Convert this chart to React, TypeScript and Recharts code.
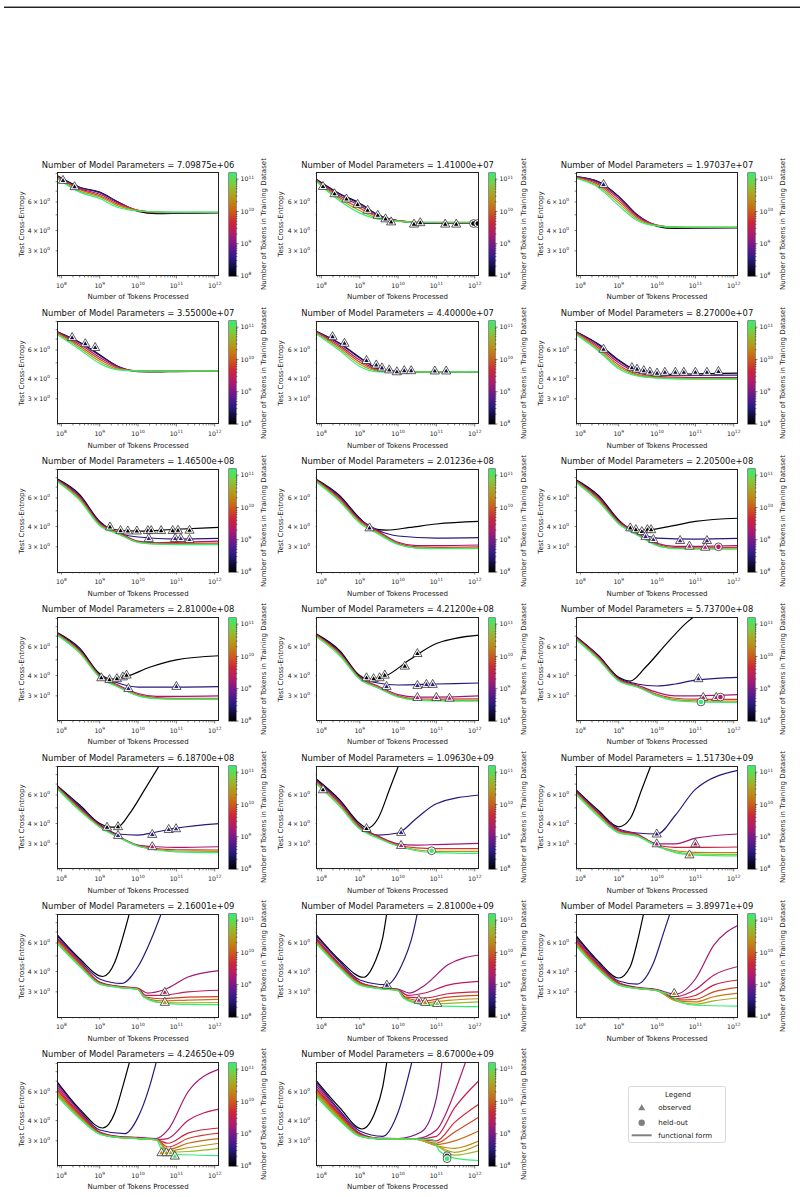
import React from "react";
import { ComposedChart, Line, Scatter, XAxis, YAxis } from "recharts";

// [tokens processed, test cross-entropy]
type Pt = [number, number];
// logD = log10 of the number of tokens in the training dataset (sets the colour)
type Curve = { logD: number; pts: Pt[] };
// [tokens processed, test cross-entropy, log10 dataset tokens]
type Mark = [number, number, number];

const FONT = "'DejaVu Sans', sans-serif";

// ---- fitted curves and measurements, one set per model size ----

const P01_FIT: Curve[] = [
  { logD: 8.0, pts: [[7.5e7, 8.75], [3e8, 7.4], [1e9, 6.9], [3e9, 6.0], [1e10, 5.25], [3e10, 5.08], [1e11, 5.1], [3e11, 5.13], [1.3e12, 5.15]] },
  { logD: 8.6, pts: [[7.5e7, 8.7], [3e8, 7.35], [1e9, 6.85], [3e9, 6.0], [1e10, 5.3], [3e10, 5.14], [1e11, 5.13], [1.3e12, 5.15]] },
  { logD: 9.3, pts: [[7.5e7, 8.65], [3e8, 7.25], [1e9, 6.7], [3e9, 5.9], [1e10, 5.33], [3e10, 5.18], [1e11, 5.15], [1.3e12, 5.16]] },
  { logD: 9.9, pts: [[7.5e7, 8.6], [3e8, 7.15], [1e9, 6.55], [3e9, 5.8], [1e10, 5.33], [3e10, 5.2], [1e11, 5.17], [1.3e12, 5.17]] },
  { logD: 10.5, pts: [[7.5e7, 8.5], [3e8, 7.0], [1e9, 6.45], [3e9, 5.68], [1e10, 5.3], [3e10, 5.2], [1e11, 5.18], [1.3e12, 5.18]] },
  { logD: 11.2, pts: [[7.5e7, 8.4], [3e8, 6.9], [1e9, 6.3], [3e9, 5.55], [1e10, 5.28], [3e10, 5.22], [1e11, 5.2], [1.3e12, 5.2]] },
];
const P01_OBS: Mark[] = [[1.1e8, 8.2, 8.3], [2.2e8, 7.5, 8.3]];

const P02_FIT: Curve[] = [
  { logD: 8.0, pts: [[7.5e7, 8.25], [3e8, 6.75], [1e9, 5.9], [3e9, 5.0], [1e10, 4.58], [3e10, 4.46], [1e11, 4.44], [1.3e12, 4.46]] },
  { logD: 8.6, pts: [[7.5e7, 8.2], [3e8, 6.7], [1e9, 5.85], [3e9, 5.0], [1e10, 4.6], [3e10, 4.48], [1e11, 4.46], [1.3e12, 4.47]] },
  { logD: 9.3, pts: [[7.5e7, 8.15], [3e8, 6.55], [1e9, 5.7], [3e9, 4.92], [1e10, 4.6], [3e10, 4.49], [1e11, 4.47], [1.3e12, 4.47]] },
  { logD: 9.9, pts: [[7.5e7, 8.1], [3e8, 6.4], [1e9, 5.5], [3e9, 4.85], [1e10, 4.6], [3e10, 4.5], [1e11, 4.48], [1.3e12, 4.48]] },
  { logD: 10.5, pts: [[7.5e7, 8.05], [3e8, 6.25], [1e9, 5.3], [3e9, 4.77], [1e10, 4.58], [3e10, 4.5], [1e11, 4.49], [1.3e12, 4.49]] },
  { logD: 11.2, pts: [[7.5e7, 8.0], [3e8, 6.1], [1e9, 5.12], [3e9, 4.7], [1e10, 4.56], [3e10, 4.5], [1e11, 4.5], [1.3e12, 4.5]] },
];
const P02_OBS: Mark[] = [
  [1.1e8, 7.52, 8.0], [2.2e8, 6.78, 8.0], [4.5e8, 6.3, 8.0], [8.8e8, 5.84, 8.0], [1.6e9, 5.37, 8.0], [2.95e9, 5.0, 8.0],
  [4.7e9, 4.75, 8.0], [6.6e9, 4.55, 8.0], [2.6e10, 4.41, 8.0], [3.8e10, 4.5, 8.0], [1.7e11, 4.41, 8.0], [3.3e11, 4.41, 8.0],
];
const P02_HELD: Mark[] = [[9.3e11, 4.42, 8.0], [1.2e12, 4.42, 8.0]];

const P03_FIT: Curve[] = [
  { logD: 8.0, pts: [[7.5e7, 8.6], [3e8, 8.0], [1e9, 6.5], [3e9, 5.0], [1e10, 4.25], [3e10, 4.12], [1e11, 4.14], [1.3e12, 4.17]] },
  { logD: 8.6, pts: [[7.5e7, 8.6], [3e8, 7.95], [1e9, 6.45], [3e9, 5.0], [1e10, 4.3], [3e10, 4.17], [1e11, 4.16], [1.3e12, 4.17]] },
  { logD: 9.3, pts: [[7.5e7, 8.55], [3e8, 7.8], [1e9, 6.3], [3e9, 4.92], [1e10, 4.32], [3e10, 4.19], [1e11, 4.17], [1.3e12, 4.17]] },
  { logD: 9.9, pts: [[7.5e7, 8.5], [3e8, 7.65], [1e9, 6.1], [3e9, 4.82], [1e10, 4.31], [3e10, 4.2], [1e11, 4.18], [1.3e12, 4.18]] },
  { logD: 10.5, pts: [[7.5e7, 8.45], [3e8, 7.5], [1e9, 5.9], [3e9, 4.72], [1e10, 4.29], [3e10, 4.2], [1e11, 4.19], [1.3e12, 4.19]] },
  { logD: 11.2, pts: [[7.5e7, 8.4], [3e8, 7.35], [1e9, 5.7], [3e9, 4.62], [1e10, 4.27], [3e10, 4.2], [1e11, 4.2], [1.3e12, 4.2]] },
];
const P03_OBS: Mark[] = [[4e8, 7.75, 8.5]];

const P04_FIT: Curve[] = [
  { logD: 8.0, pts: [[7.5e7, 7.8], [3e8, 6.7], [1e9, 5.6], [3e9, 4.75], [1e10, 4.42], [3e10, 4.4], [1e11, 4.42], [1.3e12, 4.45]] },
  { logD: 8.6, pts: [[7.5e7, 7.8], [3e8, 6.65], [1e9, 5.55], [3e9, 4.75], [1e10, 4.45], [3e10, 4.43], [1e11, 4.44], [1.3e12, 4.45]] },
  { logD: 9.3, pts: [[7.5e7, 7.75], [3e8, 6.5], [1e9, 5.4], [3e9, 4.7], [1e10, 4.46], [3e10, 4.44], [1.3e12, 4.45]] },
  { logD: 9.9, pts: [[7.5e7, 7.7], [3e8, 6.35], [1e9, 5.25], [3e9, 4.63], [1e10, 4.46], [3e10, 4.45], [1.3e12, 4.46]] },
  { logD: 10.5, pts: [[7.5e7, 7.6], [3e8, 6.2], [1e9, 5.1], [3e9, 4.57], [1e10, 4.46], [3e10, 4.45], [1.3e12, 4.46]] },
  { logD: 11.2, pts: [[7.5e7, 7.5], [3e8, 6.05], [1e9, 4.95], [3e9, 4.52], [1e10, 4.45], [3e10, 4.45], [1.3e12, 4.46]] },
];
const P04_OBS: Mark[] = [[1.9e8, 7.2, 8.3], [4.2e8, 6.6, 8.3], [7.6e8, 6.25, 8.3]];

const P05_FIT: Curve[] = [
  { logD: 8.0, pts: [[7.5e7, 7.8], [3e8, 6.6], [1e9, 5.4], [3e9, 4.6], [1e10, 4.4], [3e10, 4.38], [1e11, 4.4], [1.3e12, 4.42]] },
  { logD: 8.6, pts: [[7.5e7, 7.8], [3e8, 6.55], [1e9, 5.35], [3e9, 4.6], [1e10, 4.42], [3e10, 4.41], [1.3e12, 4.42]] },
  { logD: 9.3, pts: [[7.5e7, 7.75], [3e8, 6.4], [1e9, 5.2], [3e9, 4.55], [1e10, 4.43], [3e10, 4.42], [1.3e12, 4.42]] },
  { logD: 9.9, pts: [[7.5e7, 7.7], [3e8, 6.25], [1e9, 5.05], [3e9, 4.5], [1e10, 4.42], [1.3e12, 4.42]] },
  { logD: 10.5, pts: [[7.5e7, 7.6], [3e8, 6.1], [1e9, 4.9], [3e9, 4.45], [1e10, 4.4], [1.3e12, 4.41]] },
  { logD: 11.2, pts: [[7.5e7, 7.5], [3e8, 5.95], [1e9, 4.75], [3e9, 4.4], [1e10, 4.38], [1.3e12, 4.4]] },
];
const P05_OBS: Mark[] = [
  [1.95e8, 7.29, 8.3], [4e8, 6.64, 8.3], [1.5e9, 5.2, 8.3], [2.7e9, 4.88, 8.3], [3.8e9, 4.68, 8.3], [5.9e9, 4.55, 8.3],
  [9.3e9, 4.43, 8.3], [1.45e10, 4.5, 8.3], [2.2e10, 4.5, 8.3], [9.1e10, 4.48, 8.3], [1.8e11, 4.48, 8.3],
];

const P06_FIT: Curve[] = [
  { logD: 8.0, pts: [[7.5e7, 7.8], [3e8, 6.5], [1e9, 5.2], [3e9, 4.45], [1e10, 4.25], [3e10, 4.25], [1e11, 4.28], [1.3e12, 4.32]] },
  { logD: 8.6, pts: [[7.5e7, 7.8], [3e8, 6.45], [1e9, 5.15], [3e9, 4.42], [1e10, 4.22], [3e10, 4.18], [1e11, 4.18], [1.3e12, 4.2]] },
  { logD: 9.3, pts: [[7.5e7, 7.75], [3e8, 6.3], [1e9, 5.0], [3e9, 4.35], [1e10, 4.15], [3e10, 4.08], [1e11, 4.06], [1.3e12, 4.06]] },
  { logD: 9.9, pts: [[7.5e7, 7.7], [3e8, 6.15], [1e9, 4.85], [3e9, 4.25], [1e10, 4.08], [3e10, 4.02], [1e11, 4.0], [1.3e12, 4.0]] },
  { logD: 10.5, pts: [[7.5e7, 7.6], [3e8, 6.0], [1e9, 4.72], [3e9, 4.2], [1e10, 4.05], [3e10, 4.0], [1e11, 3.98], [1.3e12, 3.98]] },
  { logD: 11.2, pts: [[7.5e7, 7.5], [3e8, 5.9], [1e9, 4.6], [3e9, 4.15], [1e10, 4.02], [3e10, 3.98], [1.3e12, 3.97]] },
];
const P06_OBS: Mark[] = [
  [4e8, 6.1, 8.3], [2.2e9, 4.7, 8.3], [3e9, 4.6, 8.3], [4.5e9, 4.5, 8.3], [6.5e9, 4.42, 8.3], [1e10, 4.35, 8.3],
  [1.6e10, 4.4, 8.3], [3e10, 4.4, 8.3], [5e10, 4.4, 8.3], [1e11, 4.4, 8.3], [2e11, 4.4, 8.3], [4e11, 4.45, 8.3],
];

const P07_FIT: Curve[] = [
  { logD: 8.0, pts: [[7.5e7, 7.9], [3e8, 6.3], [1e9, 4.3], [2e9, 3.85], [1e10, 3.75], [1e11, 3.85], [1.3e12, 3.95]] },
  { logD: 8.5, pts: [[7.5e7, 7.85], [3e8, 6.2], [1e9, 4.25], [2e9, 3.8], [1e10, 3.45], [1e11, 3.35], [1.3e12, 3.38]] },
  { logD: 9.2, pts: [[7.5e7, 7.8], [3e8, 6.1], [1e9, 4.2], [3e9, 3.7], [1e10, 3.25], [3e10, 3.18], [1e11, 3.2], [1.3e12, 3.25]] },
  { logD: 9.8, pts: [[7.5e7, 7.75], [3e8, 6.0], [1e9, 4.15], [3e9, 3.67], [1e10, 3.22], [3e10, 3.15], [1e11, 3.15], [1.3e12, 3.16]] },
  { logD: 10.4, pts: [[7.5e7, 7.7], [3e8, 5.9], [1e9, 4.1], [3e9, 3.63], [1e10, 3.2], [3e10, 3.13], [1e11, 3.12], [1.3e12, 3.12]] },
  { logD: 11.2, pts: [[7.5e7, 7.6], [3e8, 5.8], [1e9, 4.05], [3e9, 3.6], [1e10, 3.2], [3e10, 3.12], [1e11, 3.1], [1.3e12, 3.1]] },
];
const P07_OBS: Mark[] = [
  [1.85e9, 4.0, 8.0], [3.5e9, 3.8, 8.0], [5.4e9, 3.78, 8.0], [9.3e9, 3.78, 8.0], [1.8e10, 3.8, 8.0], [2.2e10, 3.8, 8.0],
  [4e10, 3.8, 8.0], [8e10, 3.8, 8.0], [1.1e11, 3.82, 8.0], [2.2e11, 3.82, 8.0],
  [1.9e10, 3.4, 8.7], [9.3e10, 3.4, 8.7], [1.3e11, 3.4, 8.7], [2.2e11, 3.35, 8.7],
];

const P08_FIT: Curve[] = [
  { logD: 8.0, pts: [[7.5e7, 7.8], [3e8, 6.2], [1e9, 4.5], [2e9, 3.9], [5e9, 3.8], [2e10, 3.95], [1e11, 4.15], [1.3e12, 4.3]] },
  { logD: 8.5, pts: [[7.5e7, 7.75], [3e8, 6.1], [1e9, 4.45], [3e9, 3.8], [1e10, 3.5], [1e11, 3.4], [1.3e12, 3.42]] },
  { logD: 9.2, pts: [[7.5e7, 7.7], [3e8, 6.0], [1e9, 4.4], [3e9, 3.75], [1e10, 3.2], [3e10, 3.05], [1e11, 3.05], [1.3e12, 3.08]] },
  { logD: 9.8, pts: [[7.5e7, 7.65], [3e8, 5.9], [1e9, 4.33], [3e9, 3.7], [1e10, 3.15], [3e10, 3.0], [1e11, 2.98], [1.3e12, 3.0]] },
  { logD: 10.4, pts: [[7.5e7, 7.6], [3e8, 5.8], [1e9, 4.27], [3e9, 3.65], [1e10, 3.12], [3e10, 2.96], [1e11, 2.94], [1.3e12, 2.95]] },
  { logD: 11.2, pts: [[7.5e7, 7.5], [3e8, 5.7], [1e9, 4.2], [3e9, 3.6], [1e10, 3.1], [3e10, 2.95], [1e11, 2.92], [1.3e12, 2.92]] },
];
const P08_OBS: Mark[] = [[1.8e9, 3.95, 8.3]];

const P09_FIT: Curve[] = [
  { logD: 8.0, pts: [[7.5e7, 7.8], [3e8, 6.2], [1e9, 4.4], [2e9, 3.85], [5e9, 3.8], [2e10, 4.0], [1e11, 4.3], [1.3e12, 4.5]] },
  { logD: 8.5, pts: [[7.5e7, 7.75], [3e8, 6.1], [1e9, 4.35], [3e9, 3.7], [1e10, 3.4], [1e11, 3.35], [1.3e12, 3.38]] },
  { logD: 9.2, pts: [[7.5e7, 7.7], [3e8, 6.0], [1e9, 4.3], [3e9, 3.65], [1e10, 3.15], [3e10, 3.02], [1e11, 3.02], [1.3e12, 3.05]] },
  { logD: 9.8, pts: [[7.5e7, 7.65], [3e8, 5.9], [1e9, 4.25], [3e9, 3.6], [1e10, 3.1], [3e10, 2.97], [1e11, 2.96], [1.3e12, 2.98]] },
  { logD: 10.4, pts: [[7.5e7, 7.6], [3e8, 5.8], [1e9, 4.2], [3e9, 3.57], [1e10, 3.07], [3e10, 2.94], [1e11, 2.92], [1.3e12, 2.92]] },
  { logD: 11.2, pts: [[7.5e7, 7.5], [3e8, 5.7], [1e9, 4.15], [3e9, 3.55], [1e10, 3.05], [3e10, 2.92], [1e11, 2.9], [1.3e12, 2.9]] },
];
const P09_OBS: Mark[] = [
  [2e9, 3.95, 8.0], [2.8e9, 3.85, 8.0], [4e9, 3.75, 8.3], [5.6e9, 3.85, 8.0], [7e9, 3.85, 8.0],
  [5e9, 3.5, 8.6], [8e9, 3.35, 8.6], [4e10, 3.3, 8.8], [7e10, 3.05, 9.3], [2e11, 3.3, 8.8], [1.8e11, 3.0, 9.3],
];
const P09_HELD: Mark[] = [[4e11, 3.0, 9.4]];

const P10_FIT: Curve[] = [
  { logD: 8.0, pts: [[7.5e7, 7.4], [3e8, 5.9], [1e9, 4.1], [2e9, 3.8], [5e9, 3.95], [2e10, 4.5], [1e11, 5.0], [1.3e12, 5.3]] },
  { logD: 8.5, pts: [[7.5e7, 7.35], [3e8, 5.8], [1e9, 4.05], [3e9, 3.6], [1e10, 3.4], [1e11, 3.4], [1.3e12, 3.42]] },
  { logD: 9.2, pts: [[7.5e7, 7.3], [3e8, 5.7], [1e9, 4.0], [3e9, 3.5], [1e10, 3.1], [3e10, 2.98], [1e11, 2.98], [1.3e12, 3.0]] },
  { logD: 9.8, pts: [[7.5e7, 7.25], [3e8, 5.65], [1e9, 3.97], [3e9, 3.45], [1e10, 3.05], [3e10, 2.93], [1e11, 2.9], [1.3e12, 2.9]] },
  { logD: 10.4, pts: [[7.5e7, 7.2], [3e8, 5.6], [1e9, 3.93], [3e9, 3.42], [1e10, 3.02], [3e10, 2.9], [1e11, 2.87], [1.3e12, 2.87]] },
  { logD: 11.2, pts: [[7.5e7, 7.1], [3e8, 5.5], [1e9, 3.9], [3e9, 3.4], [1e10, 3.0], [3e10, 2.88], [1e11, 2.85], [1.3e12, 2.85]] },
];
const P10_OBS: Mark[] = [
  [1.1e9, 3.9, 8.0], [1.8e9, 3.8, 8.0], [2.8e9, 3.85, 8.0], [4e9, 3.95, 8.0], [5e9, 4.05, 8.0],
  [5.6e9, 3.35, 8.6], [1e11, 3.45, 8.6],
];

const P11_FIT: Curve[] = [
  { logD: 8.0, pts: [[7.5e7, 7.2], [3e8, 5.7], [1e9, 4.0], [2e9, 3.75], [5e9, 4.0], [2e10, 5.0], [1e11, 6.3], [1.3e12, 7.1]] },
  { logD: 8.5, pts: [[7.5e7, 7.15], [3e8, 5.6], [1e9, 3.95], [3e9, 3.6], [1e10, 3.5], [1e11, 3.55], [1.3e12, 3.6]] },
  { logD: 9.2, pts: [[7.5e7, 7.1], [3e8, 5.5], [1e9, 3.9], [3e9, 3.45], [1e10, 3.05], [3e10, 2.95], [1e11, 2.95], [1.3e12, 3.0]] },
  { logD: 9.8, pts: [[7.5e7, 7.05], [3e8, 5.45], [1e9, 3.87], [3e9, 3.4], [1e10, 3.0], [3e10, 2.88], [1e11, 2.86], [1.3e12, 2.87]] },
  { logD: 10.4, pts: [[7.5e7, 7.0], [3e8, 5.4], [1e9, 3.83], [3e9, 3.37], [1e10, 2.97], [3e10, 2.84], [1e11, 2.81], [1.3e12, 2.81]] },
  { logD: 11.2, pts: [[7.5e7, 6.9], [3e8, 5.3], [1e9, 3.8], [3e9, 3.35], [1e10, 2.95], [3e10, 2.82], [1e11, 2.79], [1.3e12, 2.78]] },
];
const P11_OBS: Mark[] = [
  [1.5e9, 3.9, 8.0], [2.3e9, 3.85, 8.0], [3.3e9, 3.9, 8.0], [4.5e9, 4.05, 8.0], [1.5e10, 4.6, 8.0], [3.2e10, 5.5, 8.0],
  [5e9, 3.45, 8.6], [3.2e10, 3.5, 8.6], [5.5e10, 3.55, 8.6], [8e10, 3.55, 8.6],
  [3.2e10, 2.95, 9.3], [1e11, 2.95, 9.4], [2.2e11, 2.92, 9.4],
];

const P12_FIT: Curve[] = [
  { logD: 8.0, pts: [[7.5e7, 7.0], [3e8, 5.3], [1e9, 3.9], [2e9, 3.7], [5e9, 4.5], [2e10, 6.5], [6e10, 8.5], [1.3e12, 12]] },
  { logD: 8.5, pts: [[7.5e7, 6.95], [3e8, 5.25], [1e9, 3.85], [3e9, 3.55], [1e10, 3.45], [3e10, 3.55], [1e11, 3.75], [1.3e12, 3.9]] },
  { logD: 9.2, pts: [[7.5e7, 6.9], [3e8, 5.2], [1e9, 3.8], [3e9, 3.5], [1e10, 3.15], [3e10, 3.0], [1e11, 3.0], [1.3e12, 3.05]] },
  { logD: 9.8, pts: [[7.5e7, 6.85], [3e8, 5.13], [1e9, 3.77], [3e9, 3.45], [1e10, 3.07], [3e10, 2.9], [1e11, 2.86], [1.3e12, 2.85]] },
  { logD: 10.4, pts: [[7.5e7, 6.8], [3e8, 5.07], [1e9, 3.73], [3e9, 3.42], [1e10, 3.03], [3e10, 2.84], [1e11, 2.79], [1.3e12, 2.78]] },
  { logD: 11.2, pts: [[7.5e7, 6.7], [3e8, 5.0], [1e9, 3.7], [3e9, 3.4], [1e10, 3.0], [3e10, 2.8], [1e11, 2.75], [1.3e12, 2.73]] },
];
const P12_OBS: Mark[] = [[1.2e11, 3.85, 8.6], [1.6e11, 2.95, 9.4], [3.5e11, 2.95, 9.4]];
const P12_HELD: Mark[] = [[1.4e11, 2.75, 11.2], [4.5e11, 2.95, 9.3]];

const P13_FIT: Curve[] = [
  { logD: 8.0, pts: [[7.5e7, 6.9], [3e8, 5.2], [1e9, 4.0], [2e9, 3.8], [3e9, 3.82], [6e9, 4.6], [1.5e10, 6.5], [4e10, 9.5]] },
  { logD: 8.5, pts: [[7.5e7, 6.85], [3e8, 5.1], [1e9, 3.95], [3e9, 3.45], [1e10, 3.4], [3e10, 3.55], [1e11, 3.75], [1.3e12, 4.0]] },
  { logD: 9.2, pts: [[7.5e7, 6.8], [3e8, 5.0], [1e9, 3.9], [3e9, 3.35], [1e10, 2.95], [3e10, 2.88], [1e11, 2.85], [1.3e12, 2.88]] },
  { logD: 9.8, pts: [[7.5e7, 6.75], [3e8, 4.93], [1e9, 3.87], [3e9, 3.32], [1e10, 2.92], [3e10, 2.8], [1e11, 2.76], [1.3e12, 2.75]] },
  { logD: 10.4, pts: [[7.5e7, 6.7], [3e8, 4.87], [1e9, 3.83], [3e9, 3.31], [1e10, 2.91], [3e10, 2.77], [1e11, 2.71], [1.3e12, 2.7]] },
  { logD: 11.2, pts: [[7.5e7, 6.6], [3e8, 4.8], [1e9, 3.8], [3e9, 3.3], [1e10, 2.9], [3e10, 2.75], [1e11, 2.68], [1.3e12, 2.65]] },
];
const P13_OBS: Mark[] = [
  [1.55e9, 3.82, 8.0], [3e9, 3.85, 8.0], [3e9, 3.4, 8.6], [2.35e10, 3.45, 8.6], [6.3e10, 3.7, 8.6], [9.8e10, 3.74, 8.6],
  [2.35e10, 2.9, 9.3],
];

const P14_FIT: Curve[] = [
  { logD: 8.0, pts: [[7.5e7, 7.5], [3e8, 5.6], [1e9, 4.0], [1.6e9, 3.75], [3e9, 4.3], [6e9, 6.5], [1.2e10, 10]] },
  { logD: 8.5, pts: [[7.5e7, 7.4], [3e8, 5.5], [1e9, 3.9], [3e9, 3.4], [1e10, 3.5], [3e10, 4.3], [1e11, 5.3], [1.3e12, 6.0]] },
  { logD: 9.2, pts: [[7.5e7, 7.3], [3e8, 5.4], [1e9, 3.85], [3e9, 3.35], [1e10, 3.0], [3e10, 2.95], [1e11, 2.97], [1.3e12, 3.02]] },
  { logD: 9.8, pts: [[7.5e7, 7.2], [3e8, 5.3], [1e9, 3.8], [3e9, 3.3], [1e10, 2.95], [3e10, 2.83], [1e11, 2.8], [1.3e12, 2.8]] },
  { logD: 10.4, pts: [[7.5e7, 7.1], [3e8, 5.2], [1e9, 3.75], [3e9, 3.27], [1e10, 2.92], [3e10, 2.76], [1e11, 2.7], [1.3e12, 2.7]] },
  { logD: 11.2, pts: [[7.5e7, 7.0], [3e8, 5.1], [1e9, 3.7], [3e9, 3.25], [1e10, 2.9], [3e10, 2.72], [1e11, 2.65], [1.3e12, 2.62]] },
];
const P14_OBS: Mark[] = [[1.1e8, 6.5, 8.0], [1.5e9, 3.75, 8.0], [1.2e10, 3.55, 8.6], [1.2e10, 2.95, 9.3]];
const P14_HELD: Mark[] = [[7.5e10, 2.72, 11.1]];

const P15_FIT: Curve[] = [
  { logD: 8.0, pts: [[7.5e7, 6.5], [3e8, 4.8], [1e9, 3.82], [2e9, 4.3], [4e9, 6.5], [8e9, 10]] },
  { logD: 8.5, pts: [[7.5e7, 6.4], [3e8, 4.7], [1e9, 3.7], [3e9, 3.5], [1e10, 3.45], [3e10, 4.5], [1e11, 6.5], [1.3e12, 8.5]] },
  { logD: 9.2, pts: [[7.5e7, 6.35], [3e8, 4.65], [1e9, 3.65], [3e9, 3.45], [1e10, 3.0], [3e10, 3.0], [1e11, 3.25], [1.3e12, 3.45]] },
  { logD: 9.6, pts: [[7.5e7, 6.3], [3e8, 4.6], [1e9, 3.6], [3e9, 3.42], [1e10, 2.95], [3e10, 2.85], [1e11, 2.85], [1.3e12, 2.87]] },
  { logD: 10.2, pts: [[7.5e7, 6.2], [3e8, 4.5], [1e9, 3.55], [3e9, 3.38], [1e10, 2.92], [3e10, 2.72], [1e11, 2.66], [1.3e12, 2.65]] },
  { logD: 10.8, pts: [[7.5e7, 6.15], [3e8, 4.45], [1e9, 3.52], [3e9, 3.36], [1e10, 2.91], [3e10, 2.68], [1e11, 2.6], [1.3e12, 2.58]] },
  { logD: 11.2, pts: [[7.5e7, 6.1], [3e8, 4.4], [1e9, 3.5], [3e9, 3.35], [1e10, 2.9], [3e10, 2.65], [1e11, 2.56], [1.3e12, 2.53]] },
];
const P15_OBS: Mark[] = [[9.8e9, 3.47, 8.6], [9.8e9, 3.02, 9.2], [1e11, 3.02, 9.3], [7e10, 2.58, 10.3]];

const P16_FIT: Curve[] = [
  { logD: 8.0, pts: [[7.5e7, 6.8], [3e8, 4.8], [1.2e9, 3.73], [2.5e9, 4.6], [4e9, 6.5], [6e9, 9.2]] },
  { logD: 8.5, pts: [[7.5e7, 6.7], [3e8, 4.7], [1e9, 3.6], [3.7e9, 3.38], [1e10, 4.3], [2.5e10, 6.8], [4.1e10, 9.2]] },
  { logD: 9.2, pts: [[7.5e7, 6.5], [3e8, 4.6], [1e9, 3.45], [3e9, 3.25], [1e10, 3.15], [1.8e10, 2.95], [5e10, 3.1], [2e11, 3.7], [1.3e12, 4.06]] },
  { logD: 9.5, pts: [[7.5e7, 6.4], [3e8, 4.5], [1e9, 3.42], [3e9, 3.23], [1e10, 3.15], [1.6e10, 2.85], [4e10, 2.85], [2e11, 3.0], [1.3e12, 3.07]] },
  { logD: 9.8, pts: [[7.5e7, 6.3], [3e8, 4.45], [1e9, 3.4], [3e9, 3.22], [1e10, 3.12], [1.5e10, 2.8], [4e10, 2.72], [2e11, 2.78], [1.3e12, 2.8]] },
  { logD: 10.2, pts: [[7.5e7, 6.2], [3e8, 4.4], [1e9, 3.38], [3e9, 3.21], [1e10, 3.11], [1.4e10, 2.8], [4e10, 2.64], [2e11, 2.67], [1.3e12, 2.7]] },
  { logD: 10.6, pts: [[7.5e7, 6.1], [3e8, 4.35], [1e9, 3.36], [3e9, 3.2], [1e10, 3.1], [1.4e10, 2.8], [4e10, 2.58], [2e11, 2.57], [1.3e12, 2.58]] },
  { logD: 11.2, pts: [[7.5e7, 6.0], [3e8, 4.3], [1e9, 3.35], [3e9, 3.2], [1e10, 3.1], [1.4e10, 2.8], [3e10, 2.6], [1e11, 2.52], [1.3e12, 2.5]] },
];
const P16_OBS: Mark[] = [[5e10, 3.0, 9.3], [5e10, 2.6, 10.4]];

const P17_FIT: Curve[] = [
  { logD: 8.0, pts: [[7.5e7, 6.7], [3e8, 4.7], [1.25e9, 3.69], [2.5e9, 4.6], [4e9, 6.5], [5.1e9, 9.2]] },
  { logD: 8.5, pts: [[7.5e7, 6.6], [3e8, 4.6], [1e9, 3.55], [5e9, 3.32], [1.2e10, 4.3], [2.5e10, 7.0], [3.2e10, 9.2]] },
  { logD: 9.2, pts: [[7.5e7, 6.4], [3e8, 4.45], [1e9, 3.45], [3e9, 3.2], [1e10, 3.12], [2e10, 2.95], [5e10, 3.3], [2e11, 4.4], [1.3e12, 5.06]] },
  { logD: 9.4, pts: [[7.5e7, 6.3], [3e8, 4.4], [1e9, 3.42], [3e9, 3.19], [1e10, 3.1], [1.8e10, 2.85], [5e10, 2.95], [2e11, 3.3], [1.3e12, 3.48]] },
  { logD: 9.6, pts: [[7.5e7, 6.2], [3e8, 4.35], [1e9, 3.4], [3e9, 3.18], [1e10, 3.08], [1.6e10, 2.78], [5e10, 2.75], [2e11, 2.92], [1.3e12, 3.0]] },
  { logD: 9.9, pts: [[7.5e7, 6.1], [3e8, 4.3], [1e9, 3.37], [3e9, 3.17], [1e10, 3.07], [1.5e10, 2.76], [5e10, 2.64], [2e11, 2.78], [1.3e12, 2.85]] },
  { logD: 10.3, pts: [[7.5e7, 6.05], [3e8, 4.27], [1e9, 3.35], [3e9, 3.16], [1e10, 3.06], [1.4e10, 2.75], [5e10, 2.57], [2e11, 2.66], [1.3e12, 2.72]] },
  { logD: 10.7, pts: [[7.5e7, 6.0], [3e8, 4.23], [1e9, 3.32], [3e9, 3.15], [1e10, 3.05], [1.4e10, 2.75], [5e10, 2.52], [2e11, 2.55], [1.3e12, 2.6]] },
  { logD: 11.2, pts: [[7.5e7, 5.9], [3e8, 4.2], [1e9, 3.3], [3e9, 3.15], [1e10, 3.05], [1.4e10, 2.75], [3e10, 2.55], [1e11, 2.46], [1.3e12, 2.43]] },
];
const P17_OBS: Mark[] = [[5.1e9, 3.32, 8.6], [3.5e10, 2.68, 9.4], [5.1e10, 2.6, 10.3], [1.05e11, 2.56, 10.9]];

const P18_FIT: Curve[] = [
  { logD: 8.0, pts: [[7.5e7, 6.7], [3e8, 4.6], [1e9, 3.65], [2e9, 4.3], [3e9, 6.0], [4.5e9, 9.2]] },
  { logD: 8.5, pts: [[7.5e7, 6.6], [3e8, 4.5], [1e9, 3.5], [3e9, 3.35], [8e9, 4.5], [1.5e10, 7.0], [2.2e10, 9.2]] },
  { logD: 9.2, pts: [[7.5e7, 6.4], [3e8, 4.4], [1e9, 3.42], [3e9, 3.2], [1e10, 3.1], [3e10, 2.9], [1e11, 3.6], [3e11, 5.8], [1.3e12, 7.7]] },
  { logD: 9.4, pts: [[7.5e7, 6.3], [3e8, 4.35], [1e9, 3.4], [3e9, 3.18], [1e10, 3.08], [3e10, 2.8], [1e11, 3.1], [3e11, 3.8], [1.3e12, 4.3]] },
  { logD: 9.6, pts: [[7.5e7, 6.2], [3e8, 4.3], [1e9, 3.38], [3e9, 3.17], [1e10, 3.07], [3e10, 2.72], [1e11, 2.85], [3e11, 3.3], [1.3e12, 3.55]] },
  { logD: 9.9, pts: [[7.5e7, 6.1], [3e8, 4.25], [1e9, 3.35], [3e9, 3.16], [1e10, 3.06], [3e10, 2.68], [1e11, 2.7], [3e11, 3.0], [1.3e12, 3.2]] },
  { logD: 10.2, pts: [[7.5e7, 6.0], [3e8, 4.2], [1e9, 3.33], [3e9, 3.15], [1e10, 3.05], [3e10, 2.66], [1e11, 2.6], [3e11, 2.8], [1.3e12, 2.95]] },
  { logD: 10.6, pts: [[7.5e7, 5.9], [3e8, 4.15], [1e9, 3.31], [3e9, 3.15], [1e10, 3.05], [3e10, 2.64], [1e11, 2.52], [3e11, 2.64], [1.3e12, 2.75]] },
  { logD: 11.2, pts: [[7.5e7, 5.8], [3e8, 4.1], [1e9, 3.3], [3e9, 3.15], [1e10, 3.05], [2e10, 2.9], [4e10, 2.6], [1e11, 2.48], [1.3e12, 2.45]] },
];
const P18_OBS: Mark[] = [[2.8e10, 2.95, 10.3]];

const P19_FIT: Curve[] = [
  { logD: 8.0, pts: [[7.5e7, 7.0], [3e8, 4.7], [1.2e9, 3.6], [2.5e9, 4.5], [4e9, 6.5], [6e9, 9.2]] },
  { logD: 8.5, pts: [[7.5e7, 6.9], [3e8, 4.6], [1e9, 3.5], [4.5e9, 3.32], [1e10, 4.2], [2e10, 6.5], [3e10, 9.2]] },
  { logD: 9.2, pts: [[7.5e7, 6.7], [3e8, 4.5], [1e9, 3.4], [3e9, 3.2], [1e10, 3.15], [3e10, 3.1], [6e10, 3.5], [2e11, 6.0], [1.3e12, 8.3]] },
  { logD: 9.4, pts: [[7.5e7, 6.5], [3e8, 4.4], [1e9, 3.38], [3e9, 3.18], [1e10, 3.13], [3e10, 3.05], [6e10, 3.1], [2e11, 4.0], [1.3e12, 4.7]] },
  { logD: 9.6, pts: [[7.5e7, 6.3], [3e8, 4.35], [1e9, 3.36], [3e9, 3.17], [1e10, 3.12], [3e10, 3.05], [6e10, 2.9], [2e11, 3.35], [1.3e12, 3.6]] },
  { logD: 9.8, pts: [[7.5e7, 6.2], [3e8, 4.3], [1e9, 3.34], [3e9, 3.16], [1e10, 3.11], [3e10, 3.05], [6e10, 2.75], [2e11, 3.1], [1.3e12, 3.35]] },
  { logD: 10.1, pts: [[7.5e7, 6.0], [3e8, 4.25], [1e9, 3.33], [3e9, 3.15], [1e10, 3.1], [3e10, 3.05], [6e10, 2.65], [2e11, 2.9], [1.3e12, 3.1]] },
  { logD: 10.4, pts: [[7.5e7, 5.9], [3e8, 4.2], [1e9, 3.32], [3e9, 3.15], [1e10, 3.1], [3e10, 3.05], [6e10, 2.6], [2e11, 2.72], [1.3e12, 2.9]] },
  { logD: 10.7, pts: [[7.5e7, 5.8], [3e8, 4.15], [1e9, 3.31], [3e9, 3.15], [1e10, 3.1], [3e10, 3.05], [6e10, 2.56], [2e11, 2.58], [1.3e12, 2.7]] },
  { logD: 11.2, pts: [[7.5e7, 5.7], [3e8, 4.1], [1e9, 3.3], [3e9, 3.15], [1e10, 3.1], [3e10, 3.05], [4e10, 2.7], [1e11, 2.48], [1.3e12, 2.43]] },
];
const P19_OBS: Mark[] = [[4.1e10, 2.55, 10.3], [5.5e10, 2.55, 10.5], [7.1e10, 2.55, 10.7], [9.1e10, 2.43, 11.1]];

const P20_FIT: Curve[] = [
  { logD: 8.0, pts: [[7.5e7, 7.0], [3e8, 4.8], [1.15e9, 3.55], [2.5e9, 4.5], [4e9, 6.5], [5.1e9, 9.2]] },
  { logD: 8.5, pts: [[7.5e7, 6.9], [3e8, 4.6], [1e9, 3.45], [4e9, 3.2], [1e10, 4.5], [2.3e10, 9.2]] },
  { logD: 9.0, pts: [[7.5e7, 6.7], [3e8, 4.5], [1e9, 3.35], [3e9, 3.12], [1e10, 3.1], [4e10, 3.4], [1e11, 5.5], [1.4e11, 9.2]] },
  { logD: 9.3, pts: [[7.5e7, 6.5], [3e8, 4.4], [1e9, 3.3], [3e9, 3.1], [1e10, 3.08], [3e10, 3.1], [1e11, 3.5], [3e11, 6.0], [5.8e11, 9.2]] },
  { logD: 9.5, pts: [[7.5e7, 6.3], [3e8, 4.35], [1e9, 3.28], [3e9, 3.09], [1e10, 3.08], [3e10, 3.08], [1e11, 3.2], [3e11, 4.8], [1.3e12, 7.06]] },
  { logD: 9.7, pts: [[7.5e7, 6.2], [3e8, 4.3], [1e9, 3.26], [3e9, 3.09], [1e10, 3.08], [3e10, 3.07], [1e11, 3.0], [3e11, 3.9], [1.3e12, 5.06]] },
  { logD: 9.9, pts: [[7.5e7, 6.1], [3e8, 4.25], [1e9, 3.25], [3e9, 3.09], [1e10, 3.08], [3e10, 3.07], [1e11, 2.9], [3e11, 3.4], [1.3e12, 4.21]] },
  { logD: 10.1, pts: [[7.5e7, 6.0], [3e8, 4.2], [1e9, 3.24], [3e9, 3.09], [1e10, 3.08], [3e10, 3.07], [1e11, 2.85], [3e11, 3.0], [1.3e12, 3.46]] },
  { logD: 10.3, pts: [[7.5e7, 5.9], [3e8, 4.15], [1e9, 3.23], [3e9, 3.09], [1e10, 3.08], [3e10, 3.06], [1e11, 2.8], [3e11, 2.7], [1.3e12, 3.0]] },
  { logD: 10.5, pts: [[7.5e7, 5.8], [3e8, 4.1], [1e9, 3.22], [3e9, 3.09], [1e10, 3.08], [3e10, 3.06], [1e11, 2.8], [3e11, 2.55], [1.3e12, 2.85]] },
  { logD: 10.7, pts: [[7.5e7, 5.7], [3e8, 4.05], [1e9, 3.21], [3e9, 3.09], [1e10, 3.08], [3e10, 3.06], [1e11, 2.8], [3e11, 2.45], [1.3e12, 2.6]] },
  { logD: 11.2, pts: [[7.5e7, 5.6], [3e8, 4.0], [1e9, 3.2], [3e9, 3.1], [1e10, 3.08], [8e10, 3.05], [1.2e11, 2.6], [3e11, 2.35], [1.3e12, 2.27]] },
];
const P20_HELD: Mark[] = [[1.9e11, 2.43, 8.3], [1.9e11, 2.33, 11.2]];

type PanelSpec = { n: string; fit: Curve[]; obs: Mark[]; held: Mark[] };

const PANELS: PanelSpec[] = [
  { n: "7.09875e+06", fit: P01_FIT, obs: P01_OBS, held: [] },
  { n: "1.41000e+07", fit: P02_FIT, obs: P02_OBS, held: P02_HELD },
  { n: "1.97037e+07", fit: P03_FIT, obs: P03_OBS, held: [] },
  { n: "3.55000e+07", fit: P04_FIT, obs: P04_OBS, held: [] },
  { n: "4.40000e+07", fit: P05_FIT, obs: P05_OBS, held: [] },
  { n: "8.27000e+07", fit: P06_FIT, obs: P06_OBS, held: [] },
  { n: "1.46500e+08", fit: P07_FIT, obs: P07_OBS, held: [] },
  { n: "2.01236e+08", fit: P08_FIT, obs: P08_OBS, held: [] },
  { n: "2.20500e+08", fit: P09_FIT, obs: P09_OBS, held: P09_HELD },
  { n: "2.81000e+08", fit: P10_FIT, obs: P10_OBS, held: [] },
  { n: "4.21200e+08", fit: P11_FIT, obs: P11_OBS, held: [] },
  { n: "5.73700e+08", fit: P12_FIT, obs: P12_OBS, held: P12_HELD },
  { n: "6.18700e+08", fit: P13_FIT, obs: P13_OBS, held: [] },
  { n: "1.09630e+09", fit: P14_FIT, obs: P14_OBS, held: P14_HELD },
  { n: "1.51730e+09", fit: P15_FIT, obs: P15_OBS, held: [] },
  { n: "2.16001e+09", fit: P16_FIT, obs: P16_OBS, held: [] },
  { n: "2.81000e+09", fit: P17_FIT, obs: P17_OBS, held: [] },
  { n: "3.89971e+09", fit: P18_FIT, obs: P18_OBS, held: [] },
  { n: "4.24650e+09", fit: P19_FIT, obs: P19_OBS, held: [] },
  { n: "8.67000e+09", fit: P20_FIT, obs: [], held: P20_HELD },
];

// ---- axes ----
const X_DOMAIN: [number, number] = [7.67e7, 1.27e12];
const Y_DOMAIN: [number, number] = [2.1, 9.05];
const X_DECADES = [1e8, 1e9, 1e10, 1e11, 1e12];
const X_TICKS = [8e7, 9e7, ...X_DECADES.slice(0, 4).flatMap((d) => [1, 2, 3, 4, 5, 6, 7, 8, 9].map((k) => k * d)), 1e12];
const Y_TICKS = [3, 4, 5, 6, 7, 8, 9];
const Y_LABELLED = [3, 4, 6];
const CB_MIN = 8;
const CB_MAX = 11.19;

// ---- layout ----
const PW = 161.7;
const PH = 103;
const X0 = 57.3;
const Y0 = 172.7;
const COL_STEP = 259.4;
const ROW_STEP = 148.3;
const ML = 50;
const MT = 6;
const TICK_FS = 6.2;
const SUP_FS = 4.4;
const LABEL_FS = 7.05;

// colour ramp for dataset size: black -> indigo -> magenta -> red -> orange -> olive -> green
const CMAP: [number, number[]][] = [
  [0.0, [0, 0, 0]],
  [0.07, [14, 10, 52]],
  [0.17, [44, 26, 132]],
  [0.28, [104, 24, 146]],
  [0.4, [176, 24, 112]],
  [0.52, [208, 36, 56]],
  [0.62, [208, 88, 24]],
  [0.72, [192, 136, 16]],
  [0.81, [168, 170, 32]],
  [0.9, [120, 208, 64]],
  [1.0, [48, 240, 112]],
];

function cmap(logD: number): string {
  const t = Math.max(0, Math.min(1, (logD - CB_MIN) / (CB_MAX - CB_MIN)));
  for (let i = 1; i < CMAP.length; i++) {
    const [t1, c1] = CMAP[i];
    const [t0, c0] = CMAP[i - 1];
    if (t <= t1) {
      const f = (t - t0) / (t1 - t0);
      const c = c0.map((v, k) => Math.round(v + (c1[k] - v) * f));
      return `rgb(${c[0]},${c[1]},${c[2]})`;
    }
  }
  return "rgb(48,240,112)";
}

const CB_GRADIENT = `linear-gradient(to top, ${CMAP.map(([t, c]) => `rgb(${c.join(",")}) ${(t * 100).toFixed(1)}%`).join(", ")})`;

const XTick = (props: any) => {
  const { x, y, payload } = props;
  const lg = Math.log10(payload.value);
  const e = Math.round(lg);
  const major = Math.abs(lg - e) < 1e-6;
  return (
    <g>
      <line x1={x} x2={x} y1={y} y2={y + (major ? 2.5 : 1.4)} stroke="#222" strokeWidth={0.6} />
      {major && (
        <text x={x} y={y + 12} textAnchor="middle" fontSize={TICK_FS} fontFamily={FONT} fill="#222">
          10<tspan dy={-2.9} fontSize={SUP_FS}>{e}</tspan>
        </text>
      )}
    </g>
  );
};

const YTick = (props: any) => {
  const { x, y, payload } = props;
  const v = payload.value;
  return (
    <g>
      <line x1={x - 1.4} x2={x} y1={y} y2={y} stroke="#222" strokeWidth={0.6} />
      {Y_LABELLED.includes(v) && (
        <text x={x - 7} y={y + 2.2} textAnchor="end" fontSize={TICK_FS} fontFamily={FONT} fill="#222">
          {v}{"\u2009×\u2009"}10<tspan dy={-2.9} fontSize={SUP_FS}>0</tspan>
        </text>
      )}
    </g>
  );
};

function Tri(props: any) {
  const { cx, cy, payload } = props;
  if (cx == null || cy == null) return null;
  const outer = `${cx},${cy - 4.6} ${cx - 4.6},${cy + 3.4} ${cx + 4.6},${cy + 3.4}`;
  const inner = `${cx},${cy - 1.9} ${cx - 2.2},${cy + 2} ${cx + 2.2},${cy + 2}`;
  return (
    <g>
      <polygon points={outer} fill="#fff" stroke="#333" strokeWidth={0.8} />
      <polygon points={inner} fill={cmap(payload.d)} />
    </g>
  );
}

function Dot(props: any) {
  const { cx, cy, payload } = props;
  if (cx == null || cy == null) return null;
  return (
    <g>
      <circle cx={cx} cy={cy} r={3.9} fill="#fff" stroke="#333" strokeWidth={0.8} />
      <circle cx={cx} cy={cy} r={2.3} fill={cmap(payload.d)} />
    </g>
  );
}

const abs = (left: number, top: number): React.CSSProperties => ({ position: "absolute", left, top });

function Colorbar({ left, top }: { left: number; top: number }) {
  const w = 6.7;
  const decPx = PH / (CB_MAX - CB_MIN);
  const ticks: { y: number; major: boolean; e: number }[] = [];
  for (let e = 8; e <= 11; e++) {
    for (let k = 1; k <= 9; k++) {
      const lg = e + Math.log10(k);
      if (lg > CB_MAX) continue;
      ticks.push({ y: PH - (lg - CB_MIN) * decPx, major: k === 1, e });
    }
  }
  return (
    <>
      <div style={{ ...abs(left, top), width: w, height: PH, background: CB_GRADIENT, boxShadow: "0 0 0 0.6px #444" }} />
      <svg style={{ ...abs(left + w, top - 5), overflow: "visible" }} width={30} height={PH + 10}>
        {ticks.map((t, i) => (
          <g key={i}>
            <line x1={0} x2={t.major ? 2.5 : 1.4} y1={t.y + 5} y2={t.y + 5} stroke="#222" strokeWidth={0.6} />
            {t.major && (
              <text x={4.6} y={t.y + 5 + 2.3} fontSize={TICK_FS} fontFamily={FONT} fill="#222">
                10<tspan dy={-2.9} fontSize={SUP_FS}>{t.e}</tspan>
              </text>
            )}
          </g>
        ))}
      </svg>
      <div
        style={{
          ...abs(left + 34, top + PH / 2),
          transform: "translate(-50%, -50%) rotate(-90deg)",
          whiteSpace: "nowrap",
          fontSize: LABEL_FS,
          color: "#222",
        }}
      >
        Number of Tokens in Training Dataset
      </div>
    </>
  );
}

function Panel({ spec, row, col }: { spec: PanelSpec; row: number; col: number }) {
  const left = X0 + col * COL_STEP;
  const top = Y0 + row * ROW_STEP;
  const obs = spec.obs.map(([x, y, d]) => ({ x, y, d }));
  const held = spec.held.map(([x, y, d]) => ({ x, y, d }));
  return (
    <>
      <div
        style={{
          ...abs(left + PW / 2, top - 8.2),
          transform: "translate(-50%, -50%)",
          whiteSpace: "nowrap",
          fontSize: 8.4,
          color: "#111",
        }}
      >
        Number of Model Parameters = {spec.n}
      </div>
      <div style={abs(left - ML, top - MT)}>
        <ComposedChart width={ML + PW + 6} height={MT + PH + 24} margin={{ top: MT, right: 6, bottom: 0, left: 0 }}>
          <XAxis
            dataKey="x"
            type="number"
            scale="log"
            domain={X_DOMAIN}
            allowDataOverflow
            ticks={X_TICKS}
            interval={0}
            tick={<XTick />}
            tickLine={false}
            axisLine={false}
            tickSize={0}
            tickMargin={0}
            height={24}
          />
          <YAxis
            dataKey="y"
            type="number"
            scale="log"
            domain={Y_DOMAIN}
            allowDataOverflow
            ticks={Y_TICKS}
            interval={0}
            tick={<YTick />}
            tickLine={false}
            axisLine={false}
            tickSize={0}
            tickMargin={0}
            width={ML}
          />
          {spec.fit.map((c, i) => (
            <Line
              key={i}
              data={c.pts.map(([x, y]) => ({ x, y }))}
              dataKey="y"
              type="monotone"
              stroke={cmap(c.logD)}
              strokeWidth={1.2}
              dot={false}
              activeDot={false}
              isAnimationActive={false}
            />
          ))}
          {obs.length > 0 && <Scatter data={obs} dataKey="y" shape={(p: any) => <Tri {...p} />} isAnimationActive={false} />}
          {held.length > 0 && <Scatter data={held} dataKey="y" shape={(p: any) => <Dot {...p} />} isAnimationActive={false} />}
        </ComposedChart>
      </div>
      <div
        style={{
          ...abs(left - 0.4, top - 0.4),
          width: PW + 0.8,
          height: PH + 0.8,
          boxSizing: "border-box",
          border: "0.8px solid #222",
          pointerEvents: "none",
        }}
      />
      <div
        style={{
          ...abs(left + PW / 2, top + PH + 20.7),
          transform: "translate(-50%, -50%)",
          whiteSpace: "nowrap",
          fontSize: LABEL_FS,
          color: "#222",
        }}
      >
        Number of Tokens Processed
      </div>
      <div
        style={{
          ...abs(left - 36.6, top + PH / 2),
          transform: "translate(-50%, -50%) rotate(-90deg)",
          whiteSpace: "nowrap",
          fontSize: LABEL_FS,
          color: "#222",
        }}
      >
        Test Cross-Entropy
      </div>
      <Colorbar left={left + PW + 10.3} top={top} />
    </>
  );
}

function LegendBox() {
  return (
    <div
      style={{
        ...abs(628, 1085.7),
        width: 98,
        height: 57,
        boxSizing: "border-box",
        border: "0.8px solid #d8d8d8",
        borderRadius: 2.5,
        background: "#fff",
        fontSize: LABEL_FS,
        color: "#222",
      }}
    >
      <div style={{ ...abs(49, 7.3), transform: "translate(-50%, -50%)" }}>Legend</div>
      <svg style={abs(0, 0)} width={98} height={57}>
        <polygon points="12.7,17.2 9.2,23.2 16.2,23.2" fill="#808080" />
        <circle cx={12.7} cy={35.8} r={3.2} fill="#808080" />
        <line x1={2.7} x2={22.7} y1={48.3} y2={48.3} stroke="#808080" strokeWidth={2} />
      </svg>
      <div style={{ ...abs(29.3, 20.3), transform: "translateY(-50%)", whiteSpace: "nowrap" }}>observed</div>
      <div style={{ ...abs(29.3, 35.6), transform: "translateY(-50%)", whiteSpace: "nowrap" }}>held-out</div>
      <div style={{ ...abs(29.3, 48.2), transform: "translateY(-50%)", whiteSpace: "nowrap" }}>functional form</div>
    </div>
  );
}

export default function App() {
  return (
    <div
      style={{
        position: "absolute",
        left: 0,
        top: 0,
        width: 804,
        height: 1197,
        background: "#fff",
        fontFamily: FONT,
        overflow: "hidden",
      }}
    >
      <div style={{ ...abs(4, 5.6), width: 796, height: 1, background: "#999" }} />
      <div style={{ ...abs(4, 6.6), width: 796, height: 1, background: "#222" }} />
      {PANELS.map((p, i) => (
        <Panel key={i} spec={p} row={Math.floor(i / 3)} col={i % 3} />
      ))}
      <LegendBox />
    </div>
  );
}
